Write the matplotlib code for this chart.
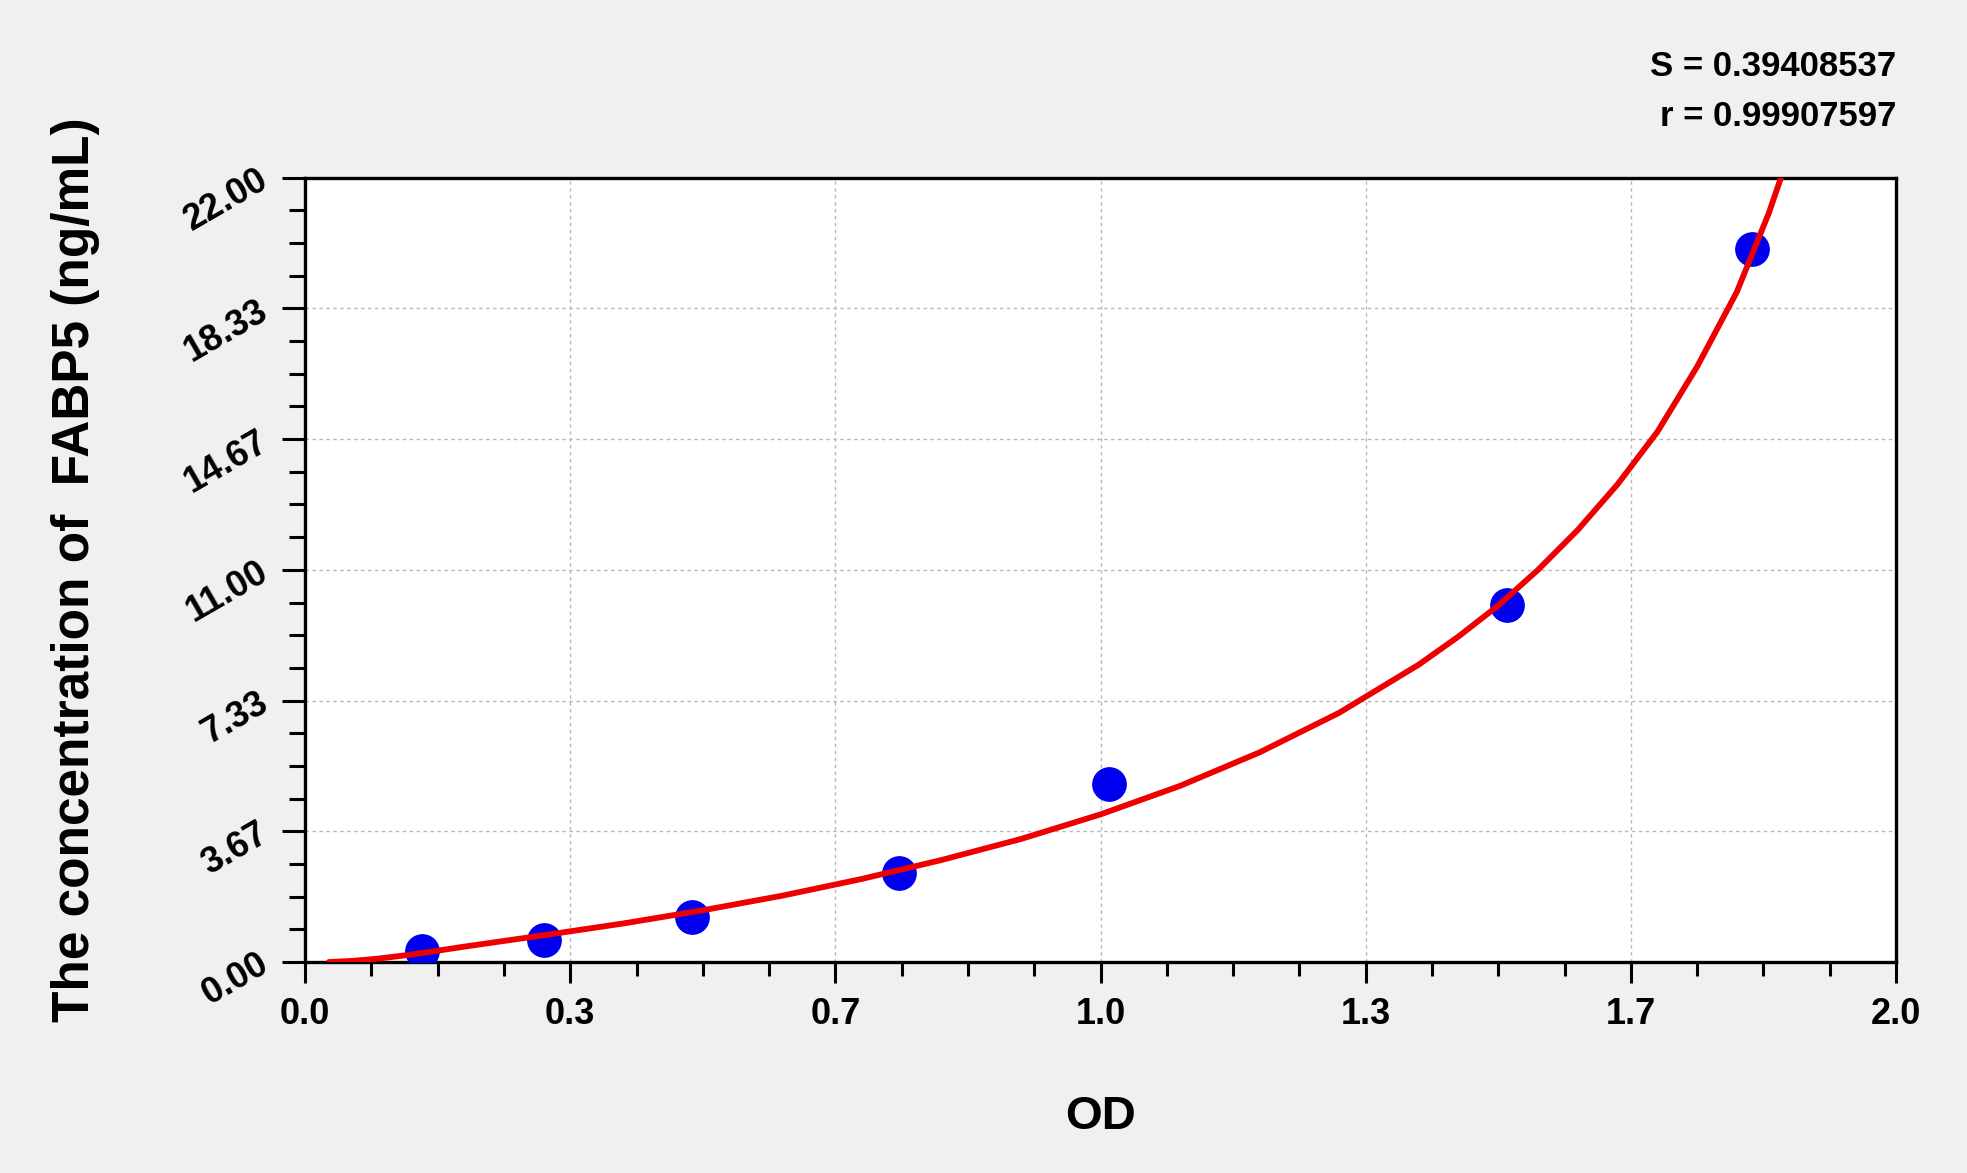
import matplotlib
matplotlib.use('Agg')
import matplotlib.pyplot as plt
import numpy as np

# standard points (OD vs concentration)
od = [0.147, 0.300, 0.486, 0.747, 1.011, 1.511, 1.819]
conc = [0.3125, 0.625, 1.25, 2.5, 5.0, 10.0, 20.0]

# fitted curve
curve_od = [0.03, 0.06, 0.09, 0.12, 0.15, 0.20, 0.30, 0.40, 0.50, 0.60,
            0.70, 0.80, 0.90, 1.00, 1.10, 1.20, 1.30, 1.40, 1.45, 1.50,
            1.55, 1.60, 1.65, 1.70, 1.75, 1.80, 1.84, 1.86]
curve_conc = [0.00, 0.03, 0.09, 0.17, 0.26, 0.43, 0.75, 1.08, 1.45, 1.86,
              2.33, 2.86, 3.45, 4.14, 4.94, 5.88, 6.99, 8.34, 9.13, 10.00,
              11.00, 12.12, 13.40, 14.87, 16.70, 18.80, 21.00, 22.30]

x_ticks = [0, 1/3, 2/3, 1, 4/3, 5/3, 2]
x_labels = ['0.0', '0.3', '0.7', '1.0', '1.3', '1.7', '2.0']
y_ticks = [0, 22/6, 44/6, 11, 88/6, 110/6, 22]
y_labels = ['0.00', '3.67', '7.33', '11.00', '14.67', '18.33', '22.00']

stats = ['S = 0.39408537', 'r = 0.99907597']

plt.rcParams['font.family'] = ['Liberation Sans', 'DejaVu Sans']
plt.rcParams['font.weight'] = 'bold'

fig = plt.figure(figsize=(19.67, 11.73), dpi=100, facecolor='#f0f0f0')
ax = fig.add_axes([0.1551, 0.1799, 0.8088, 0.6686])
ax.set_facecolor('white')

ax.plot(od, conc, 'o', color='#0000ee', markersize=24, zorder=3)
ax.plot(curve_od, curve_conc, '-', color='#ee0000', linewidth=4.2,
        solid_capstyle='round', zorder=4)

ax.set_xlim(0, 2)
ax.set_ylim(0, 22)
ax.set_xticks(x_ticks)
ax.set_xticklabels(x_labels)
ax.set_yticks(y_ticks)
ax.set_yticklabels(y_labels)
ax.set_xticks(np.arange(0, 2.0001, 1/12), minor=True)
ax.set_yticks(np.arange(0, 22.0001, 22/24), minor=True)

ax.grid(True, which='major', color='#b8b8b8', linestyle=(0, (2.5, 2.5)), linewidth=1.0)

for s in ax.spines.values():
    s.set_linewidth(2.4)
    s.set_color('black')

ax.tick_params(axis='x', which='major', direction='out', length=15, width=2.2,
               pad=10, labelsize=26)
ax.tick_params(axis='x', which='minor', direction='out', length=10, width=2.2)
ax.tick_params(axis='y', which='major', direction='out', length=16.5, width=2.2,
               pad=12, labelsize=26)
ax.tick_params(axis='y', which='minor', direction='out', length=11.5, width=2.2)

for t in ax.get_yticklabels():
    t.set_rotation(30)
    t.set_rotation_mode('anchor')
    t.set_ha('right')
    t.set_va('center')

ax.set_xlabel('OD', fontsize=34, fontweight='bold')
ax.xaxis.set_label_coords(0.5, -0.170)
ax.set_ylabel('The concentration of  FABP5 (ng/mL)', fontsize=37, fontweight='bold')
ax.yaxis.set_label_coords(-0.129, 0.5)

fig.text(0.9639, 0.943, stats[0], ha='right', va='center', fontsize=25,
         fontweight='bold')
fig.text(0.9639, 0.901, stats[1], ha='right', va='center', fontsize=25,
         fontweight='bold')

fig.savefig('out.png', dpi=100, facecolor=fig.get_facecolor())
